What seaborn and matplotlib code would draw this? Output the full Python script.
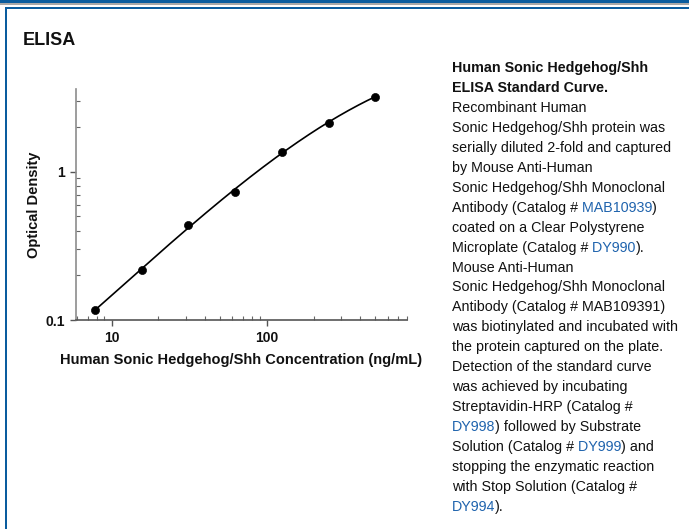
import numpy as np
import pandas as pd
import matplotlib
matplotlib.use("Agg")
import matplotlib.pyplot as plt
import seaborn as sns
from matplotlib.patches import Rectangle
from matplotlib.ticker import LogLocator, FixedLocator, NullFormatter

# Standard curve data
concentration = [7.81, 15.63, 31.25, 62.5, 125, 250, 500]
optical_density = [0.117, 0.217, 0.436, 0.733, 1.36, 2.14, 3.20]
x_ticks = [10, 100]
x_tick_labels = ["10", "100"]
y_ticks = [0.1, 1]
y_tick_labels = ["0.1", "1"]

title = "ELISA"
x_label = "Human Sonic Hedgehog/Shh Concentration (ng/mL)"
y_label = "Optical Density"

# caption lines: list of (text, color) segments
BLACK = "#111111"
LINK = "#1f63ad"
caption = [
    [("Human Sonic Hedgehog/Shh", BLACK)],
    [("ELISA Standard Curve.", BLACK)],
    [("Recombinant Human", BLACK)],
    [("Sonic Hedgehog/Shh protein was", BLACK)],
    [("serially diluted 2-fold and captured", BLACK)],
    [("by Mouse Anti-Human", BLACK)],
    [("Sonic Hedgehog/Shh Monoclonal", BLACK)],
    [("Antibody (Catalog #", BLACK), (" MAB10939", LINK), (")", BLACK)],
    [("coated on a Clear Polystyrene", BLACK)],
    [("Microplate (Catalog #", BLACK), (" DY990", LINK), (").", BLACK)],
    [("Mouse Anti-Human", BLACK)],
    [("Sonic Hedgehog/Shh Monoclonal", BLACK)],
    [("Antibody (Catalog # MAB109391)", BLACK)],
    [("was biotinylated and incubated with", BLACK)],
    [("the protein captured on the plate.", BLACK)],
    [("Detection of the standard curve", BLACK)],
    [("was achieved by incubating", BLACK)],
    [("Streptavidin-HRP (Catalog #", BLACK)],
    [("DY998", LINK), (") followed by Substrate", BLACK)],
    [("Solution (Catalog #", BLACK), (" DY999", LINK), (") and", BLACK)],
    [("stopping the enzymatic reaction", BLACK)],
    [("with Stop Solution (Catalog #", BLACK)],
    [("DY994", LINK), (").", BLACK)],
]
n_bold = 2

sns.set_theme(style="white")
plt.rcParams["font.family"] = ["Liberation Sans", "DejaVu Sans"]

W, H = 689, 529
fig = plt.figure(figsize=(W / 100, H / 100), dpi=100)


def fx(x):
    return x / W


def fy(y):
    return 1 - y / H


# page frame
BLUE = "#0a5c9e"
fig.add_artist(Rectangle((0, fy(3)), 1, 3 / H, transform=fig.transFigure, color=BLUE, lw=0))
fig.add_artist(Rectangle((0, fy(4.8)), 1, 1.8 / H, transform=fig.transFigure, color="#a8a8a8", lw=0))
fig.add_artist(Rectangle((fx(4.7), fy(8.7)), 1, 2 / H, transform=fig.transFigure, color=BLUE, lw=0))
fig.add_artist(Rectangle((fx(4.7), 0), 2 / W, fy(6.7), transform=fig.transFigure, color=BLUE, lw=0))

fig.text(fx(23), fy(45), title, fontsize=13, fontweight="bold", color="#111111", va="baseline")

# plot area
ax_l, ax_r, ax_t, ax_b = 76, 407, 89, 320
ax = fig.add_axes([fx(ax_l), fy(ax_b), (ax_r - ax_l) / W, (ax_b - ax_t) / H])

df = pd.DataFrame({"conc": concentration, "od": optical_density})

# smooth fitted curve in log-log space through the standards
coef = np.polyfit(np.log10(df["conc"]), np.log10(df["od"]), 3)
lx = np.linspace(np.log10(df["conc"].min()), np.log10(df["conc"].max()), 200)
fit = pd.DataFrame({"conc": 10 ** lx, "od": 10 ** np.polyval(coef, lx)})

sns.lineplot(data=fit, x="conc", y="od", ax=ax, color="black", lw=1.2)
sns.scatterplot(data=df, x="conc", y="od", ax=ax, color="black", s=34, edgecolor="black", zorder=3)

ax.set_xscale("log")
ax.set_yscale("log")
ax.set_xlim(5.9, 800)
ax.set_ylim(0.1, 3.6)

ax.xaxis.set_major_locator(FixedLocator(x_ticks))
ax.set_xticklabels(x_tick_labels)
ax.yaxis.set_major_locator(FixedLocator(y_ticks))
ax.set_yticklabels(y_tick_labels)
ax.xaxis.set_minor_locator(LogLocator(base=10, subs=np.arange(2, 10)))
ax.yaxis.set_minor_locator(LogLocator(base=10, subs=np.arange(2, 10)))
ax.xaxis.set_minor_formatter(NullFormatter())
ax.yaxis.set_minor_formatter(NullFormatter())

for s in ["top", "right"]:
    ax.spines[s].set_visible(False)
ax.spines["left"].set_color("#8c8c8c")
ax.spines["bottom"].set_color("#555555")
ax.spines["left"].set_linewidth(1.2)
ax.spines["bottom"].set_linewidth(1.2)

ax.tick_params(which="major", direction="out", length=4, width=1, color="#555555",
               labelsize=10, pad=4, bottom=True, left=True)
ax.tick_params(which="minor", direction="in", length=3, width=0.8, color="#666666",
               bottom=True, left=True)
for lab in ax.get_xticklabels() + ax.get_yticklabels():
    lab.set_fontweight("bold")
    lab.set_color("#111111")

ax.set_xlabel(x_label, fontsize=10.5, fontweight="bold", color="#111111")
ax.set_ylabel(y_label, fontsize=10.5, fontweight="bold", color="#111111")
ax.xaxis.set_label_coords(0.5, (ax_b - 360) / (ax_b - ax_t), transform=ax.transAxes)
ax.yaxis.set_label_coords((34 - ax_l) / (ax_r - ax_l), 0.5, transform=ax.transAxes)
ax.xaxis.label.set_va("center")
ax.yaxis.label.set_va("center")
ax.set_facecolor("white")

# caption with coloured catalogue links
base = 72
step = 19.95
for i, segs in enumerate(caption):
    weight = "bold" if i < n_bold else "normal"
    prev = None
    for text, color in segs:
        if prev is None:
            prev = fig.text(fx(452), fy(base + i * step), text, fontsize=10.3,
                            fontweight=weight, color=color, va="baseline")
        else:
            prev = ax.annotate(text, xy=(1, 0), xycoords=prev, fontsize=10.3,
                               fontweight=weight, color=color, va="bottom",
                               ha="left", annotation_clip=False)

fig.savefig("out.png", dpi=100, facecolor="white")
